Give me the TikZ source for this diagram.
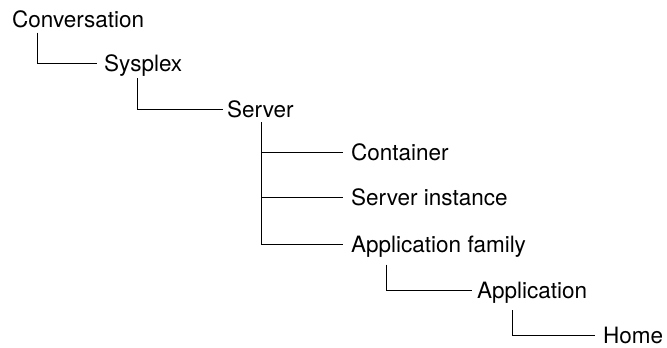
\documentclass[tikz,border=0pt]{standalone}
\usepackage{fontspec}
\setmainfont{TeX Gyre Heros}
\usetikzlibrary{calc}
\tikzset{item/.style={anchor=south west, inner sep=0pt, text height=16pt, text depth=0pt, font=\fontsize{22.5}{26}\selectfont},
  link/.style={line width=0.9pt}}

\begin{document}
\begin{tikzpicture}[x=1pt,y=-1pt]
  \useasboundingbox (0,0) rectangle (667,348);
  \node[item] (conv) at (12,27.5) {Conversation};
  \node[item] (sys)  at (104,72) {Sysplex};
  \node[item] (srv)  at (227,118) {Server};
  \node[item] (cont) at (351,161) {Container};
  \node[item] (inst) at (351,206) {Server instance};
  \node[item] (fam)  at (351,252.5) {Application family};
  \node[item] (app)  at (477,299) {Application};
  \node[item] (home) at (603,344) {Home};
  % tree links
  \coordinate (srvtop) at ($(srv.south west)+(34,4)$);
  \draw[link] ($(conv.south west)+(25,5)$) |- ($(sys.west)+(-7,0)$);
  \draw[link] ($(sys.south west)+(33,6)$) |- ($(srv.west)+(-4,0)$);
  \draw[link] (srvtop) |- ($(fam.west)+(-8,0)$);
  \draw[link] (srvtop) |- ($(cont.west)+(-8,0)$);
  \draw[link] (srvtop) |- ($(inst.west)+(-8,0)$);
  \draw[link] ($(fam.south west)+(35,12)$) |- ($(app.west)+(-5,0)$);
  \draw[link] ($(app.south west)+(35,11)$) |- ($(home.west)+(-8,0)$);
\end{tikzpicture}
\end{document}
